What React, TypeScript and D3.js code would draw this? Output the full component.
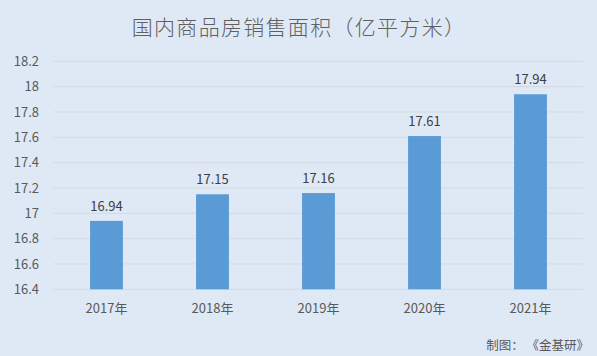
import React, { useEffect } from "react";
import * as d3 from "d3";

const categories = ["2017年", "2018年", "2019年", "2020年", "2021年"];
const values = [16.94, 17.15, 17.16, 17.61, 17.94];
const yTicks = [16.4, 16.6, 16.8, 17, 17.2, 17.4, 17.6, 17.8, 18, 18.2];
const title = "国内商品房销售面积（亿平方米）";
const footer = "制图： 《金基研》";

const W = 597;
const H = 356;
const left = 53.5;
const right = 583.5;
const top = 61.3;
const bottom = 289.3;
const font = "'Noto Sans CJK SC', 'Noto Sans', sans-serif";
const textColor = "#595959";

export default function App() {
  useEffect(() => {
    document.body.style.margin = "0";
  }, []);
  const x = d3.scaleBand<string>().domain(categories).range([left, right]).paddingInner(0.69).paddingOuter(0.345);
  const y = d3.scaleLinear().domain([16.4, 18.2]).range([bottom, top]);
  return (
    <svg width={W} height={H} style={{ display: "block" }}>
      <rect x={0} y={0} width={W} height={H} fill="#dee9f5" />
      <text x={W / 2 + 0.5} y={35} textAnchor="middle" fontFamily={font} fontSize={21} fontWeight={300} fill="#5f5f5f" letterSpacing={1.3}>
        {title}
      </text>
      {yTicks.map((t) => (
        <g key={t}>
          <line x1={left} x2={right} y1={y(t)} y2={y(t)} stroke="#d5d9de" strokeWidth={1} />
          <text x={39} y={y(t)} dy="0.35em" textAnchor="end" fontFamily={font} fontSize={13} fill={textColor}>
            {d3.format("~g")(t)}
          </text>
        </g>
      ))}
      {categories.map((c, i) => (
        <g key={c}>
          <rect x={x(c)} y={y(values[i])} width={x.bandwidth()} height={y(16.4) - y(values[i])} fill="#5b9bd5" />
          <text x={(x(c) as number) + x.bandwidth() / 2} y={y(values[i]) - 10} textAnchor="middle" fontFamily={font} fontSize={13} fill="#404040">
            {values[i].toFixed(2)}
          </text>
          <text x={(x(c) as number) + x.bandwidth() / 2} y={313} textAnchor="middle" fontFamily={font} fontSize={13} fill={textColor}>
            {c}
          </text>
        </g>
      ))}
      <text x={589} y={350} textAnchor="end" fontFamily={font} fontSize={12.5} fill={textColor}>
        {footer}
      </text>
    </svg>
  );
}
